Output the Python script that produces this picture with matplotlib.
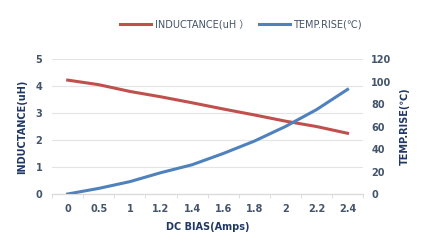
import matplotlib.pyplot as plt
import numpy as np

plt.rcParams['font.family'] = ['DejaVu Sans', 'Noto Sans CJK SC']

bias = ["0", "0.5", "1", "1.2", "1.4", "1.6", "1.8", "2", "2.2", "2.4"]
inductance = [4.22, 4.05, 3.8, 3.6, 3.38, 3.15, 2.93, 2.7, 2.5, 2.25]
temp_rise = [0, 5, 11, 19, 26, 36, 47, 60, 75, 93]

red = "#C0504D"
blue = "#4F81BD"
txt = "#44546A"
lab = "#1F3864"

fig = plt.figure(figsize=(4.38, 2.41), dpi=100)
ax = fig.add_axes([0.119, 0.195, 0.710, 0.560])
ax2 = ax.twinx()

x = np.arange(len(bias))
l1, = ax.plot(x, inductance, color=red, lw=2.2, label="INDUCTANCE(uH \uFF09")
l2, = ax2.plot(x, temp_rise, color=blue, lw=2.2, label="TEMP.RISE(\u2103)")

ax.set_xlim(-0.5, len(bias) - 0.5)
ax.set_ylim(0, 5)
ax2.set_ylim(0, 120)
ax.set_yticks(range(0, 6))
ax2.set_yticks(range(0, 121, 20))
ax.set_xticks(x)
ax.set_xticklabels(bias)
ax.set_xticks(np.arange(-0.5, len(bias)), minor=True)
ax.tick_params(axis="x", which="major", length=0, pad=7)
ax.tick_params(axis="x", which="minor", length=3, color="#D9D9D9")
ax.tick_params(axis="y", length=0, pad=7)
ax2.tick_params(axis="y", length=0, pad=6)

for a in (ax, ax2):
    for s in ("left", "right", "top"):
        a.spines[s].set_visible(False)
    a.spines["bottom"].set_color("#D9D9D9")
    for t in a.get_xticklabels() + a.get_yticklabels():
        t.set_color(txt)
        t.set_fontsize(7)
        t.set_fontweight("bold")

ax.grid(axis="y", color="#E4E4E4", lw=0.8)
ax.set_axisbelow(True)

ax.set_xlabel("DC BIAS(Amps)", fontsize=7, fontweight="bold", color=lab, labelpad=6)
ax.set_ylabel("INDUCTANCE(uH)", fontsize=7, fontweight="bold", color=lab, labelpad=6)
ax2.set_ylabel("TEMP.RISE(\u2103)", fontsize=7, fontweight="bold", color=lab, labelpad=6)

fig.legend(handles=[l1, l2], loc="center", bbox_to_anchor=(0.55, 0.9), ncol=2,
           frameon=False, fontsize=7, labelcolor=txt, handlelength=3.2,
           columnspacing=1.0, handletextpad=0.4)

fig.savefig("out.png", dpi=100)
